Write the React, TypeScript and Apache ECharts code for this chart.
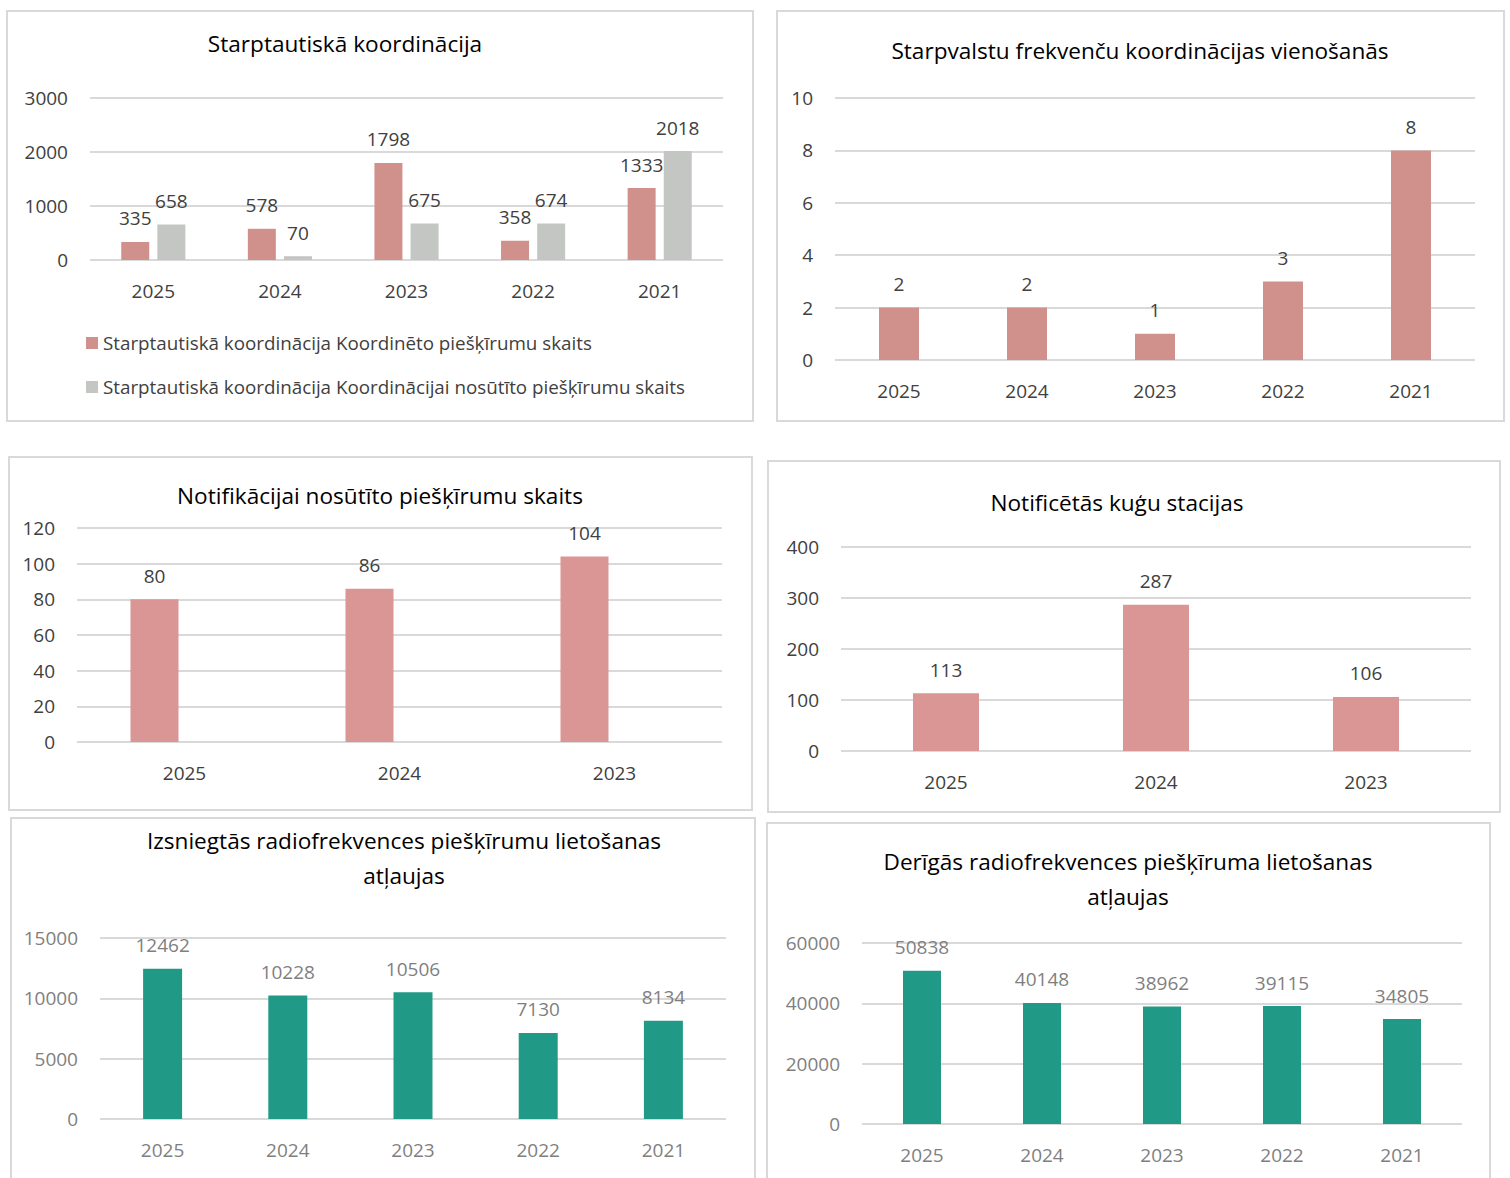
import React, { useEffect, useRef } from "react";
import * as echarts from "echarts";

const years5 = ["2025", "2024", "2023", "2022", "2021"];
const years3 = ["2025", "2024", "2023"];
const coordDone = [335, 578, 1798, 358, 1333];
const coordSent = [658, 70, 675, 674, 2018];
const agreements = [2, 2, 1, 3, 8];
const notifSent = [80, 86, 104];
const shipStations = [113, 287, 106];
const issuedPermits = [12462, 10228, 10506, 7130, 8134];
const validPermits = [50838, 40148, 38962, 39115, 34805];

const legendNames = [
  "Starptautiskā koordinācija Koordinēto piešķīrumu skaits",
  "Starptautiskā koordinācija Koordinācijai nosūtīto piešķīrumu skaits",
];

const titles = [
  { text: "Starptautiskā koordinācija", x: 345, y: 43 },
  { text: "Starpvalstu frekvenču koordinācijas vienošanās", x: 1140, y: 50 },
  { text: "Notifikācijai nosūtīto piešķīrumu skaits", x: 380, y: 495 },
  { text: "Notificētās kuģu stacijas", x: 1117, y: 502 },
  { text: "Izsniegtās radiofrekvences piešķīrumu lietošanas\natļaujas", x: 404, y: 858 },
  { text: "Derīgās radiofrekvences piešķīruma lietošanas\natļaujas", x: 1128, y: 879 },
];

const FONT = "Open Sans";
const RED = "#D0918C";
const PINK = "#D99694";
const GREEN = "#209A86";
const GRAY = "#C4C6C3";
const DARK = "#404040";
const LIGHT = "#7F7F7F";
const GRID_LINE = "#D9D9D9";

export default function App() {
  const ref = useRef<HTMLDivElement>(null);
  useEffect(() => {
    if (!ref.current) return;
    const chart = echarts.init(ref.current, null, { renderer: "svg" });

    const grids = [
      { left: 90, top: 98, width: 633, height: 162 },
      { left: 835, top: 98, width: 640, height: 262 },
      { left: 77, top: 528, width: 645, height: 214 },
      { left: 841, top: 547, width: 630, height: 204 },
      { left: 100, top: 938, width: 626, height: 181 },
      { left: 862, top: 943, width: 600, height: 181 },
    ];
    const axisColors = [DARK, DARK, DARK, DARK, LIGHT, LIGHT];
    const yCfg = [
      { max: 3000, interval: 1000 },
      { max: 10, interval: 2 },
      { max: 120, interval: 20 },
      { max: 400, interval: 100 },
      { max: 15000, interval: 5000 },
      { max: 60000, interval: 20000 },
    ];
    const xCats = [years5, years5, years3, years3, years5, years5];

    const xAxis = xCats.map((c, i) => ({
      type: "category" as const,
      gridIndex: i,
      data: c,
      axisLine: { show: false },
      axisTick: { show: false },
      axisLabel: { color: axisColors[i], fontSize: 19, fontFamily: FONT, margin: 21 },
    }));
    const yAxis = yCfg.map((c, i) => ({
      type: "value" as const,
      gridIndex: i,
      min: 0,
      max: c.max,
      interval: c.interval,
      axisLine: { show: false },
      axisTick: { show: false },
      axisLabel: {
        color: axisColors[i],
        fontSize: 19,
        fontFamily: FONT,
        margin: 22,
        formatter: (v: number) => String(v),
      },
      splitLine: { lineStyle: { color: GRID_LINE, width: 2 } },
    }));

    const lbl = (color: string, size: number) => ({
      show: true,
      position: "top" as const,
      distance: 14,
      color,
      fontSize: size,
      fontFamily: FONT,
    });

    const series: any[] = [
      { type: "bar", name: legendNames[0], xAxisIndex: 0, yAxisIndex: 0, data: coordDone, barWidth: 28, barGap: "29%", itemStyle: { color: RED }, label: lbl(DARK, 19) },
      { type: "bar", name: legendNames[1], xAxisIndex: 0, yAxisIndex: 0, data: coordSent, barWidth: 28, barGap: "29%", itemStyle: { color: GRAY }, label: lbl(DARK, 19) },
      { type: "bar", xAxisIndex: 1, yAxisIndex: 1, data: agreements, barWidth: 40, itemStyle: { color: RED }, label: lbl(DARK, 19) },
      { type: "bar", xAxisIndex: 2, yAxisIndex: 2, data: notifSent, barWidth: 48, barGap: "25%", itemStyle: { color: PINK }, label: lbl(DARK, 19) },
      { type: "bar", xAxisIndex: 2, yAxisIndex: 2, data: [], barWidth: 48, barGap: "25%", itemStyle: { color: PINK } },
      { type: "bar", xAxisIndex: 3, yAxisIndex: 3, data: shipStations, barWidth: 66, itemStyle: { color: PINK }, label: lbl(DARK, 19) },
      { type: "bar", xAxisIndex: 4, yAxisIndex: 4, data: issuedPermits, barWidth: 39, itemStyle: { color: GREEN }, label: lbl(LIGHT, 19) },
      { type: "bar", xAxisIndex: 5, yAxisIndex: 5, data: validPermits, barWidth: 38, itemStyle: { color: GREEN }, label: lbl(LIGHT, 19) },
    ];

    const borders = [
      [7, 11, 746, 410],
      [777, 11, 727, 410],
      [9, 457, 743, 353],
      [768, 461, 732, 351],
      [11, 818, 744, 380],
      [767, 823, 723, 380],
    ].map(([x, y, w, h]) => ({
      type: "rect",
      shape: { x, y, width: w, height: h },
      style: { fill: "none", stroke: GRID_LINE, lineWidth: 2 },
      silent: true,
    }));

    const titleEls = titles.map((t) => ({
      type: "text",
      x: t.x,
      y: t.y,
      style: {
        text: t.text,
        fill: "#000000",
        fontSize: 22.6,
        fontFamily: FONT,
        lineHeight: 35,
        textAlign: "center",
        textVerticalAlign: "middle",
      },
      silent: true,
    }));

    chart.setOption({
      animation: false,
      backgroundColor: "#ffffff",
      grid: grids,
      xAxis,
      yAxis,
      series,
      legend: {
        orient: "vertical",
        left: 86,
        top: 333,
        padding: 0,
        itemWidth: 12,
        itemHeight: 12,
        itemGap: 24,
        icon: "rect",
        data: legendNames,
        textStyle: { color: DARK, fontSize: 18.8, fontFamily: FONT, lineHeight: 20 },
      },
      graphic: [...borders, ...titleEls],
    });
    return () => chart.dispose();
  }, []);
  return (
    <div
      ref={ref}
      style={{ position: "fixed", left: 0, top: 0, width: 1510, height: 1178, background: "#fff" }}
    />
  );
}
